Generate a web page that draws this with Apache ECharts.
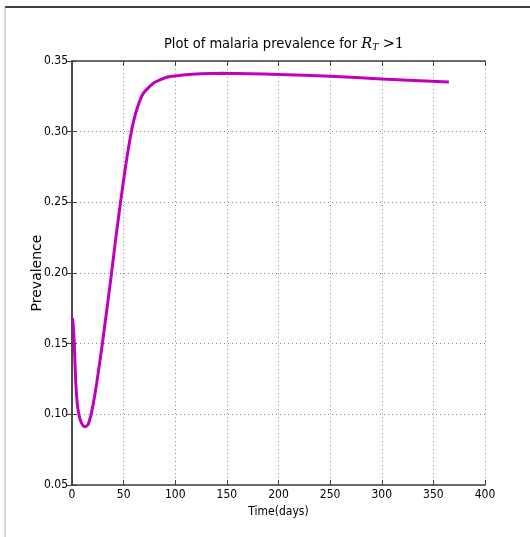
<!DOCTYPE html>
<html>
<head>
<meta charset="utf-8">
<script src="https://cdn.jsdelivr.net/npm/echarts@6/dist/echarts.min.js"></script>
<style>
  html, body { margin: 0; padding: 0; background: #ffffff; }
  #chart { width: 530px; height: 537px; }
</style>
</head>
<body>
<div id="chart"></div>
<script>
// Malaria prevalence over one year (R_T > 1)
const timeDays = [0.5, 1.5, 2.2, 2.9, 3.6, 4.5, 5.5, 6.8, 8, 9.4, 11, 12.6, 14.2, 15.8, 17, 18.4,
  21, 23.9, 26.5, 29.4, 32.2, 35, 38.3, 42.5, 47, 52, 57.5, 62.6, 69, 78.8, 91.7, 107.8, 125,
  145, 172, 200, 250, 300, 365];
const prevalence = [0.168, 0.160, 0.150, 0.136, 0.123, 0.1125, 0.105, 0.0995, 0.096, 0.0936,
  0.0918, 0.0912, 0.0918, 0.0931, 0.096, 0.0995, 0.109, 0.1219, 0.135, 0.150, 0.1655, 0.181,
  0.200, 0.225, 0.250, 0.276, 0.300, 0.3153, 0.3271, 0.3342, 0.3385, 0.3401, 0.3410, 0.3413,
  0.3410, 0.3404, 0.3392, 0.3373, 0.3351];
const xTicks = { min: 0, max: 400, interval: 50 };
const yTicks = { min: 0.05, max: 0.35, interval: 0.05 };

const points = timeDays.map((t, i) => [t, prevalence[i]]);

const chart = echarts.init(document.getElementById('chart'), null, { renderer: 'canvas' });

const baseFont = 'DejaVu Sans Condensed, DejaVu Sans, sans-serif';
const spineColor = '#404040';

const sharedAxis = {
  axisLine: { show: true, lineStyle: { color: spineColor, width: 1.5 } },
  axisTick: { show: true, inside: true, length: 5, lineStyle: { color: spineColor, width: 1 } }
};

chart.setOption({
  animation: false,
  backgroundColor: '#ffffff',
  title: {
    text: 'Plot of malaria prevalence for {it|R}{sub|T} {m|>1}',
    left: 279,
    top: 30,
    textAlign: 'center',
    textStyle: {
      fontFamily: baseFont,
      fontSize: 14.5,
      fontWeight: 'normal',
      color: '#000',
      rich: {
        it: { fontFamily: 'DejaVu Serif, serif', fontStyle: 'italic', fontSize: 14.5, color: '#000' },
        sub: { fontFamily: 'DejaVu Serif, serif', fontStyle: 'italic', fontSize: 9.5, color: '#000', padding: [8, 0, 0, 0] },
        m: { fontFamily: 'DejaVu Serif, serif', fontSize: 14.5, color: '#000' }
      }
    }
  },
  grid: { left: 72, right: 45, top: 61, bottom: 52, containLabel: false },
  xAxis: [
    Object.assign({}, sharedAxis, {
      type: 'value',
      position: 'bottom',
      min: xTicks.min, max: xTicks.max, interval: xTicks.interval,
      name: 'Time(days)',
      nameLocation: 'middle',
      nameGap: 20,
      nameTextStyle: { fontFamily: baseFont, fontSize: 12, color: '#000' },
      axisLabel: { fontFamily: baseFont, fontSize: 12, color: '#000', margin: 4 },
      splitLine: { show: true, lineStyle: { color: '#8c8c8c', type: [1, 3], width: 1 } }
    }),
    Object.assign({}, sharedAxis, {
      type: 'value',
      position: 'top',
      min: xTicks.min, max: xTicks.max, interval: xTicks.interval,
      axisLabel: { show: false },
      splitLine: { show: false }
    })
  ],
  yAxis: [
    Object.assign({}, sharedAxis, {
      type: 'value',
      position: 'left',
      min: yTicks.min, max: yTicks.max, interval: yTicks.interval,
      name: 'Prevalence',
      nameLocation: 'middle',
      nameGap: 28,
      nameMoveOverlap: false,
      nameTextStyle: { fontFamily: 'DejaVu Sans, sans-serif', fontSize: 14, color: '#000' },
      axisLabel: {
        fontFamily: baseFont, fontSize: 12, color: '#000', margin: 4,
        formatter: v => v.toFixed(2)
      },
      splitLine: { show: true, lineStyle: { color: '#8c8c8c', type: [1, 3], width: 1 } }
    }),
    Object.assign({}, sharedAxis, {
      type: 'value',
      position: 'right',
      min: yTicks.min, max: yTicks.max, interval: yTicks.interval,
      axisLabel: { show: false },
      splitLine: { show: false }
    })
  ],
  series: [{
    type: 'line',
    xAxisIndex: 0,
    yAxisIndex: 0,
    data: points,
    showSymbol: false,
    smooth: 0.2,
    lineStyle: { color: '#bf00bf', width: 3 },
    z: 5
  }],
  graphic: [
    { type: 'line', shape: { x1: 5, y1: 7, x2: 530, y2: 7 }, style: { stroke: '#000', lineWidth: 1.5 }, silent: true },
    { type: 'line', shape: { x1: 5, y1: 7, x2: 5, y2: 537 }, style: { stroke: '#b0b0b0', lineWidth: 1 }, silent: true }
  ]
});
</script>
</body>
</html>
